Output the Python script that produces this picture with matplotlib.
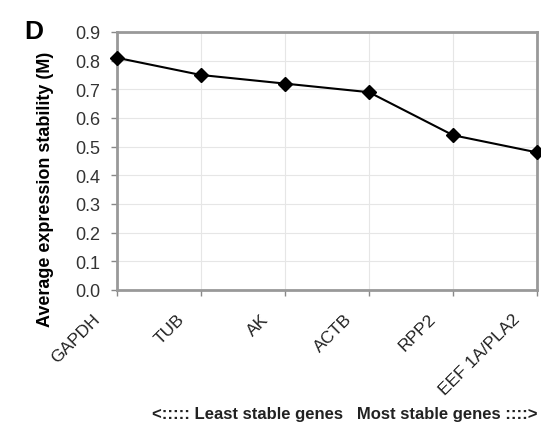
import matplotlib
matplotlib.use('Agg')
from matplotlib import pyplot as plt

genes = ['GAPDH', 'TUB', 'AK', 'ACTB', 'RPP2', 'EEF 1A/PLA2']
estabilidad = [0.81, 0.75, 0.72, 0.69, 0.54, 0.48]
yticks = [0.0, 0.1, 0.2, 0.3, 0.4, 0.5, 0.6, 0.7, 0.8, 0.9]

plt.rcParams['font.family'] = ['Liberation Sans', 'DejaVu Sans']

fig = plt.figure(figsize=(5.41, 4.27), dpi=100)
ax = fig.add_axes([117/541, 1-291/427, 420/541, 258/427])

x = list(range(len(genes)))
ax.plot(x, estabilidad, color='black', lw=1.5, marker='D', ms=7.5, zorder=3, clip_on=False)

ax.set_xlim(0, len(genes) - 1)
ax.set_ylim(0, 0.9)
ax.set_yticks(yticks)
ax.set_yticklabels(['%.1f' % v for v in yticks], fontsize=13, color='#333333')
ax.set_xticks(x)
ax.set_xticklabels([])
# etiquetas giradas, algo desplazadas a la izquierda de cada marca
for i, gen in enumerate(genes):
    ax.annotate(gen, xy=(i, 0), xycoords=('data', 'axes fraction'),
                xytext=(-10, -15), textcoords='offset points',
                rotation=45, ha='right', va='top', fontsize=12.5, color='#222222',
                annotation_clip=False)

ax.grid(True, color='#e6e6e6', lw=0.8)
ax.set_axisbelow(True)
for s in ax.spines.values():
    s.set_color('#999999')
    s.set_linewidth(2)
ax.tick_params(axis='both', color='#888888', length=4, width=1)
ax.tick_params(axis='y', pad=8)

fig.text(46/541, 1-189/427, 'Average expression stability (M)', rotation=90,
         fontsize=13, fontweight='bold', ha='center', va='center')
fig.text(34/541, 1-32/427, 'D', fontsize=19, fontweight='bold', ha='center', va='center')
fig.text(537/541, 1-415/427, '<::::: Least stable genes   Most stable genes ::::>',
         fontsize=12, fontweight='bold', ha='right', va='center', color='#222222')

fig.savefig('out.png', dpi=100)
